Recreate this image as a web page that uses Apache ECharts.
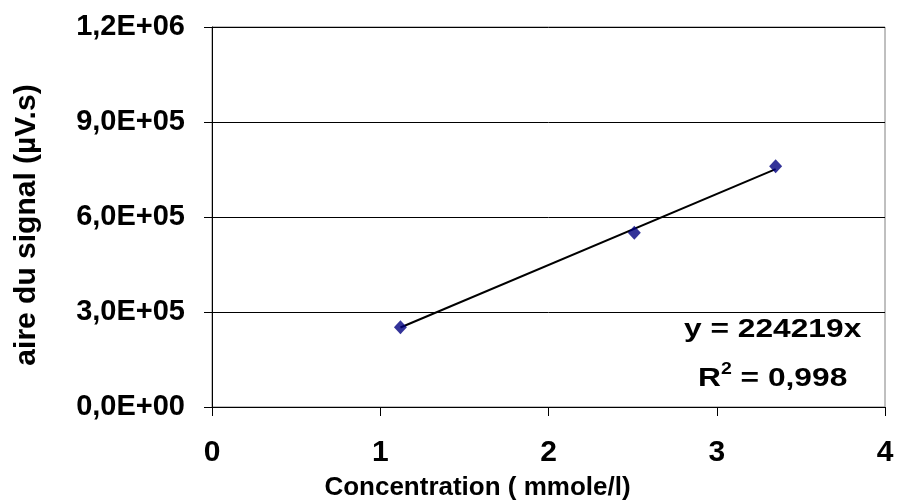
<!DOCTYPE html>
<html>
<head>
    <meta charset="utf-8">
    <title>Etalonnage</title>
    <script src="https://cdn.jsdelivr.net/npm/echarts@6/dist/echarts.min.js"></script>
    <style>
        body { margin: 0; background: #fff; }
    </style>
</head>
<body>
    <div id="main" style="width: 897px;height:503px;"></div>
    <script type="text/javascript">
        // données
        let concentration = [1.12, 2.51, 3.35]
        let aire = [252000, 550000, 760000]
        // courbe de tendance affichée (y = a x)
        let pente = 224219
        let r2 = '0,998'
        let xTicks = [0, 1, 2, 3, 4]

        // format "1,2E+06"
        function sci(v) {
            if (v === 0) return '0,0E+00'
            let e = Math.floor(Math.log10(Math.abs(v)))
            let m = (v / Math.pow(10, e)).toFixed(1).replace('.', ',')
            return m + 'E' + (e >= 0 ? '+' : '-') + String(Math.abs(e)).padStart(2, '0')
        }

        let points = concentration.map((x, i) => [x, aire[i]])
        let xmin = Math.min(...concentration)
        let xmax = Math.max(...concentration)
        let trend = [[xmin, pente * xmin], [xmax, pente * xmax]]

        let font = 'Liberation Sans, Arial, sans-serif'
        let myChart = echarts.init(document.getElementById('main'))

        let option = {
            animation: false,
            grid: {
                left: 212, right: 12, top: 27, bottom: 96,
                outerBoundsMode: 'none',
                show: true,
                borderColor: '#808080',
                borderWidth: 1
            },
            xAxis: {
                type: 'value',
                min: xTicks[0],
                max: xTicks[xTicks.length - 1],
                interval: 1,
                name: 'Concentration ( mmole/l)',
                nameLocation: 'middle',
                nameGap: 68,
                nameTextStyle: {
                    color: '#000', fontSize: 26, fontWeight: 'bold', fontFamily: font,
                    padding: [0, 142, 0, 0]
                },
                axisLine: { show: true, lineStyle: { color: '#000', width: 1 } },
                axisTick: { show: true, length: 9, lineStyle: { color: '#000' } },
                axisLabel: { color: '#000', fontSize: 30, fontWeight: 'bold', fontFamily: font, margin: 31 },
                splitLine: { show: false }
            },
            yAxis: {
                type: 'value',
                min: 0,
                max: 1200000,
                interval: 300000,
                name: 'aire du signal (µV.s)',
                nameLocation: 'middle',
                nameGap: 170,
                nameTextStyle: {
                    color: '#000', fontSize: 30, fontWeight: 'bold', fontFamily: font,
                    padding: [0, 16, 0, 0]
                },
                axisLine: { show: true, lineStyle: { color: '#000', width: 1 } },
                axisTick: { show: true, length: 8, lineStyle: { color: '#000' } },
                axisLabel: {
                    color: '#000', fontSize: 29, fontWeight: 'bold', fontFamily: font, margin: 27,
                    formatter: sci
                },
                splitLine: { show: true, lineStyle: { color: '#000', width: 1 } }
            },
            graphic: [
                {
                    type: 'text', x: 684, y: 317, scaleX: 1.22,
                    style: { text: 'y = ' + pente + 'x', fill: '#000', font: 'bold 26px ' + font }
                },
                {
                    type: 'text', x: 698, y: 362, scaleX: 1.22,
                    style: {
                        text: '{a|R}{s|2}{a| = ' + r2 + '}',
                        rich: {
                            a: { fill: '#000', font: 'bold 26px ' + font, verticalAlign: 'bottom' },
                            s: { fill: '#000', font: 'bold 16px ' + font, verticalAlign: 'top', padding: [0, 0, 14, 0] }
                        }
                    }
                }
            ],
            series: [
                {
                    name: 'tendance',
                    type: 'line',
                    data: trend,
                    symbol: 'none',
                    lineStyle: { color: '#000', width: 2 },
                    silent: true,
                    z: 2
                },
                {
                    name: 'aire',
                    type: 'scatter',
                    data: points,
                    symbol: 'diamond',
                    symbolSize: [13, 14],
                    itemStyle: { color: '#000080' },
                    z: 3
                }
            ]
        }

        myChart.setOption(option)
    </script>
</body>
</html>
